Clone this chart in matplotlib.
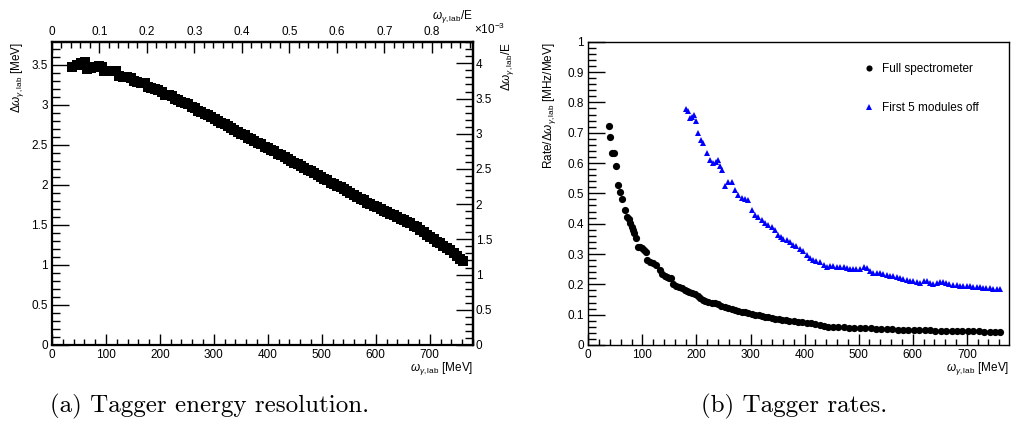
import matplotlib
matplotlib.use("Agg")
import matplotlib.pyplot as plt
from matplotlib.ticker import MultipleLocator, FormatStrFormatter

plt.rcParams['font.family'] = ['Liberation Sans', 'DejaVu Sans']
plt.rcParams['mathtext.fontset'] = 'custom'
plt.rcParams['mathtext.rm'] = 'Liberation Sans'
plt.rcParams['mathtext.it'] = 'Liberation Sans:italic'
plt.rcParams['font.size'] = 8.5

# (a) tagger energy resolution: photon energy [MeV] vs channel width [MeV]
res_e = [38, 46, 54, 61, 65, 72, 79, 87, 92, 97, 104, 111, 118, 125, 132, 139, 146, 152,
         158, 165, 172, 178, 184, 190, 197, 204, 210, 216, 222, 228, 234, 240, 246, 252,
         259, 265, 271, 277, 283, 289, 295, 302, 308, 314, 320, 326, 332, 338, 345, 351,
         357, 363, 369, 375, 381, 388, 394, 400, 406, 412, 418, 424, 431, 437, 443, 449,
         455, 461, 467, 474, 480, 486, 492, 498, 504, 510, 517, 523, 529, 535, 541, 547,
         553, 560, 566, 572, 578, 584, 590, 596, 603, 609, 615, 621, 627, 633, 639, 646,
         652, 658, 664, 670, 676, 682, 689, 695, 701, 707, 713, 719, 725, 732, 738, 744,
         750, 756, 762]
res_de = [3.47, 3.50, 3.52, 3.54, 3.45, 3.46, 3.48, 3.49, 3.48, 3.42, 3.43, 3.43, 3.42, 3.36,
          3.35, 3.35, 3.34, 3.30, 3.29, 3.28, 3.27, 3.22, 3.21, 3.20, 3.19, 3.16, 3.13, 3.12,
          3.11, 3.08, 3.06, 3.04, 3.03, 3.01, 2.98, 2.96, 2.93, 2.91, 2.89, 2.87, 2.85, 2.82,
          2.80, 2.78, 2.76, 2.74, 2.71, 2.69, 2.66, 2.64, 2.62, 2.59, 2.57, 2.55, 2.53, 2.51,
          2.48, 2.46, 2.44, 2.42, 2.39, 2.37, 2.35, 2.32, 2.30, 2.28, 2.26, 2.24, 2.21, 2.19,
          2.17, 2.15, 2.12, 2.10, 2.08, 2.06, 2.03, 2.01, 1.99, 1.97, 1.95, 1.92, 1.90, 1.87,
          1.85, 1.83, 1.81, 1.78, 1.76, 1.74, 1.72, 1.70, 1.68, 1.66, 1.64, 1.62, 1.60, 1.58,
          1.56, 1.54, 1.52, 1.49, 1.47, 1.44, 1.41, 1.38, 1.35, 1.32, 1.29, 1.27, 1.24, 1.21,
          1.19, 1.15, 1.11, 1.07, 1.05]
E_BEAM = 880.0

# (b) tagger rates
full_e = [38, 41, 44.5, 48, 52, 55.5, 58.5, 62, 67, 71.5, 74.5, 77, 80, 83, 85, 89, 91, 95.5,
          100, 103, 106, 109, 114, 120, 126, 132, 137, 141, 145, 150, 153, 157, 163, 168, 173,
          178, 182, 187, 191, 197, 202, 207, 212, 216, 222, 228, 234, 240, 246, 253, 259, 265,
          271, 277, 284, 290, 296, 302, 308, 315, 321, 327, 333, 339, 345, 352, 358, 365, 372,
          380, 388, 396, 404, 412, 420, 428, 436, 444, 452, 462, 472, 482, 492, 502, 512, 522,
          532, 542, 552, 562, 572, 582, 592, 602, 612, 622, 632, 642, 652, 662, 672, 682, 692,
          702, 712, 722, 732, 742, 752, 762]
full_rate = [0.723, 0.685, 0.633, 0.632, 0.590, 0.528, 0.504, 0.481, 0.446, 0.423, 0.416, 0.402,
             0.390, 0.380, 0.369, 0.354, 0.324, 0.324, 0.319, 0.314, 0.308, 0.280, 0.275, 0.270,
             0.264, 0.248, 0.235, 0.228, 0.225, 0.222, 0.220, 0.201, 0.195, 0.191, 0.187, 0.182,
             0.179, 0.176, 0.173, 0.168, 0.160, 0.154, 0.150, 0.146, 0.143, 0.140, 0.138, 0.135,
             0.130, 0.124, 0.121, 0.119, 0.115, 0.112, 0.110, 0.109, 0.105, 0.102, 0.100, 0.098,
             0.095, 0.093, 0.091, 0.089, 0.087, 0.085, 0.083, 0.082, 0.080, 0.078, 0.077, 0.075,
             0.073, 0.071, 0.068, 0.065, 0.062, 0.060, 0.059, 0.058, 0.058, 0.057, 0.057, 0.056,
             0.056, 0.055, 0.054, 0.053, 0.052, 0.052, 0.051, 0.050, 0.050, 0.049, 0.049, 0.048,
             0.048, 0.047, 0.047, 0.047, 0.046, 0.046, 0.046, 0.045, 0.045, 0.045, 0.044, 0.044,
             0.044, 0.044]

off_e = [181, 185, 188, 191, 195, 199, 203, 208, 213, 219, 225, 231, 236, 239, 244, 248, 253,
         259, 265, 271, 277, 284, 290, 296, 302, 308, 314, 321, 327, 333, 339, 345, 351, 357,
         361, 367, 373, 379, 385, 391, 397, 404, 410, 416, 422, 428, 435, 441, 447, 453, 460,
         466, 472, 478, 484, 490, 496, 503, 509, 515, 521, 527, 533, 539, 545, 552, 558, 564,
         570, 576, 582, 589, 595, 601, 607, 613, 620, 626, 632, 638, 644, 650, 656, 662, 668,
         675, 681, 687, 693, 700, 706, 712, 718, 724, 730, 736, 743, 749, 755, 761]
off_rate = [0.779, 0.772, 0.750, 0.753, 0.758, 0.737, 0.699, 0.677, 0.666, 0.633, 0.611, 0.600,
            0.605, 0.611, 0.589, 0.578, 0.523, 0.539, 0.537, 0.512, 0.495, 0.484, 0.481, 0.478,
            0.446, 0.429, 0.423, 0.413, 0.402, 0.396, 0.390, 0.378, 0.362, 0.355, 0.350, 0.345,
            0.338, 0.330, 0.325, 0.318, 0.310, 0.297, 0.288, 0.281, 0.276, 0.274, 0.265, 0.258,
            0.262, 0.262, 0.258, 0.256, 0.256, 0.254, 0.252, 0.249, 0.250, 0.250, 0.256, 0.255,
            0.245, 0.238, 0.238, 0.236, 0.233, 0.231, 0.229, 0.228, 0.225, 0.221, 0.219, 0.215,
            0.212, 0.210, 0.207, 0.206, 0.210, 0.211, 0.205, 0.202, 0.205, 0.207, 0.208, 0.205,
            0.200, 0.199, 0.198, 0.194, 0.196, 0.195, 0.193, 0.191, 0.191, 0.191, 0.189, 0.188,
            0.187, 0.186, 0.186, 0.185]

xlab = r'$\omega_{\gamma,\mathrm{lab}}$ [MeV]'
fmt = FormatStrFormatter('%g')


def root_ticks(axis_obj, major, minor, maj_len, min_len, pad=3):
    axis_obj.set_major_locator(MultipleLocator(major))
    axis_obj.set_minor_locator(MultipleLocator(minor))
    axis_obj.set_major_formatter(fmt)
    axis_obj.set_tick_params(which='major', direction='in', length=maj_len, width=1.0, pad=pad)
    axis_obj.set_tick_params(which='minor', direction='in', length=min_len, width=1.0)


fig = plt.figure(figsize=(10.11, 4.32), dpi=100)

# ---- (a)
ax1 = fig.add_axes([0.0514, 0.2014, 0.4164, 0.702])
ax1.plot(res_e, res_de, 's', color='black', markersize=7, markeredgewidth=0)
ax1.set_xlim(0, 780)
ax1.set_ylim(0, 3.79)
root_ticks(ax1.xaxis, 100, 20, 8, 4)
root_ticks(ax1.yaxis, 0.5, 0.1, 12, 6)
ax1.tick_params(top=False, right=False, which='both')
for s in ax1.spines.values():
    s.set_linewidth(1.6)

top = ax1.secondary_xaxis('top', functions=(lambda x: x / E_BEAM, lambda x: x * E_BEAM))
root_ticks(top.xaxis, 0.1, 0.02, 8, 4)
top.spines['top'].set_linewidth(1.6)

right = ax1.secondary_yaxis('right', functions=(lambda y: y / E_BEAM * 1e3,
                                                 lambda y: y * E_BEAM / 1e3))
root_ticks(right.yaxis, 0.5, 0.1, 12, 6, pad=2)
right.spines['right'].set_linewidth(1.6)

fig.text(0.4679, 0.148, xlab, ha='right', va='center', fontsize=8.5)
fig.text(0.017, 0.903, r'$\Delta\omega_{\gamma,\mathrm{lab}}$ [MeV]', rotation=90,
         ha='center', va='top', fontsize=8.5)
fig.text(0.4679, 0.962, r'$\omega_{\gamma,\mathrm{lab}}$/E', ha='right', va='center', fontsize=8.5)
fig.text(0.502, 0.903, r'$\Delta\omega_{\gamma,\mathrm{lab}}$/E', rotation=90,
         ha='center', va='top', fontsize=8.5)
fig.text(0.469, 0.932, r'$\times10^{-3}$', ha='left', va='center', fontsize=8.5)

# ---- (b)
ax2 = fig.add_axes([0.5819, 0.2014, 0.4161, 0.702])
ax2.plot(full_e, full_rate, 'o', color='black', markersize=5.2, markeredgewidth=0,
         label='Full spectrometer')
ax2.plot(off_e, off_rate, '^', color='#0000ff', markersize=5, markeredgewidth=0,
         label='First 5 modules off')
ax2.set_xlim(0, 778)
ax2.set_ylim(0, 1)
root_ticks(ax2.xaxis, 100, 20, 8, 4)
root_ticks(ax2.yaxis, 0.1, 0.02, 12, 6)
ax2.tick_params(top=False, right=False, which='both')
for s in ax2.spines.values():
    s.set_linewidth(1.0)
ax2.legend(loc='upper left', bbox_to_anchor=(0.64, 0.95), frameon=False, borderpad=0,
           handlelength=1.0, handletextpad=0.6, labelspacing=2.3, fontsize=8.5,
           markerscale=0.85)

fig.text(0.998, 0.148, xlab, ha='right', va='center', fontsize=8.5)
fig.text(0.544, 0.903, r'Rate/$\Delta\omega_{\gamma,\mathrm{lab}}$ [MHz/MeV]', rotation=90,
         ha='center', va='top', fontsize=8.5)

# captions
fig.text(0.207, 0.058, '(a) Tagger energy resolution.', ha='center', va='center',
         fontsize=18, family='cmr10')
fig.text(0.785, 0.058, '(b) Tagger rates.', ha='center', va='center',
         fontsize=18, family='cmr10')

fig.savefig('out.png', dpi=100)
